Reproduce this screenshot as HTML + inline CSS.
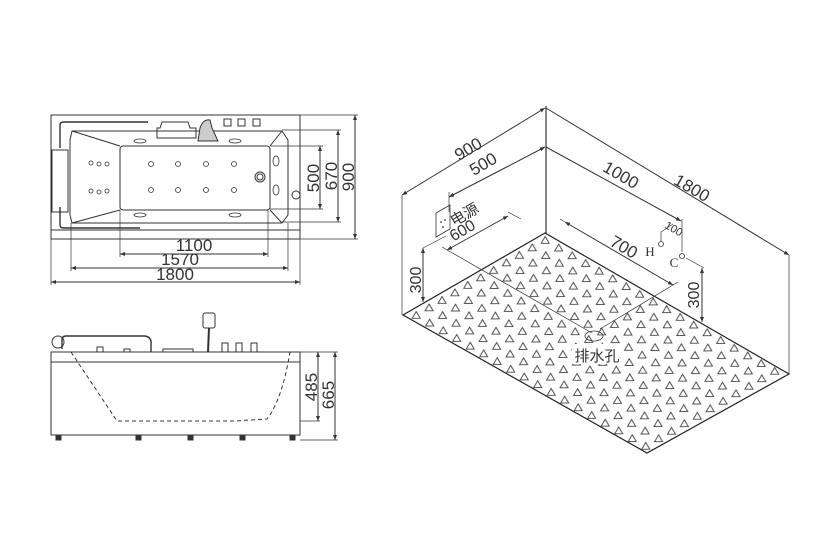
<!DOCTYPE html>
<html><head><meta charset="utf-8"><style>
html,body{margin:0;padding:0;background:#fff;width:820px;height:547px;overflow:hidden}
svg{display:block}
text{font-family:"Liberation Sans","Noto Sans CJK SC",sans-serif;fill:#333}
</style></head><body>
<svg width="820" height="547" viewBox="0 0 820 547" xmlns="http://www.w3.org/2000/svg">
<defs>
<marker id="ar" viewBox="0 0 10 10" refX="10" refY="5" markerWidth="8" markerHeight="5" markerUnits="userSpaceOnUse" orient="auto-start-reverse"><path d="M0,1 L10,5 L0,9 z" fill="#333"/></marker>
<pattern id="tri" patternUnits="userSpaceOnUse" width="1" height="1" patternTransform="matrix(13.5 7.7 12.9 -7.5 403 315)">
<g transform="translate(0.5 0.5) matrix(0.03739 0.03839 0.06431 -0.0673 0 0)"><path d="M0,-3.6 L4,3.2 L-4,3.2 z" fill="none" stroke="#444" stroke-width="0.9"/></g>
</pattern>
</defs>
<g fill="none" stroke="#333" stroke-width="1">
<!-- TOP VIEW -->
<rect x="51" y="115" width="249" height="124"/>
<line x1="51" y1="230" x2="300" y2="230"/>
<line x1="300" y1="115" x2="358" y2="115" stroke-width="0.7"/>
<line x1="300" y1="239" x2="358" y2="239" stroke-width="0.7"/>
<path d="M72,131 L282,131 L288,140 L288,215 L282,223 L72,223 L70,215 L70,140 z"/>
<rect x="120" y="146" width="150" height="64" rx="3"/>
<line x1="72" y1="131" x2="120" y2="146"/><line x1="72" y1="223" x2="120" y2="210"/>
<line x1="282" y1="131" x2="270" y2="146"/><line x1="282" y1="223" x2="270" y2="210"/>
<rect x="52" y="150" width="16" height="62"/>
<path d="M60,148 L60,125 Q60,122 64,122 L148,122" stroke-width="1.4"/>
<path d="M60,207 L60,225 Q60,228 64,228 L140,228" stroke-width="1.4"/>
<path d="M160,128 L162,122 L188,122 L190,128 L196,128 L196,138 L157,138 L157,128 z"/>
<path d="M198,141 L200,128 Q203,119 210,120 L212,128 L218,141 z" fill="#ccc"/>
<rect x="224" y="119" width="7" height="7"/><rect x="238" y="119" width="7" height="7"/><rect x="253" y="119" width="7" height="7"/>
<circle cx="260" cy="177" r="5"/><circle cx="260" cy="177" r="3"/>
<circle cx="296" cy="195" r="4"/>
<g stroke-width="0.8">
<circle cx="151" cy="164" r="2.5"/><circle cx="178" cy="164" r="2.5"/><circle cx="206" cy="164" r="2.5"/><circle cx="234" cy="164" r="2.5"/>
<circle cx="151" cy="190" r="2.5"/><circle cx="178" cy="190" r="2.5"/><circle cx="206" cy="190" r="2.5"/><circle cx="234" cy="190" r="2.5"/>
<circle cx="91" cy="163" r="2"/><circle cx="99" cy="164" r="2"/><circle cx="107" cy="164" r="2"/>
<circle cx="91" cy="191" r="2"/><circle cx="99" cy="192" r="2"/><circle cx="107" cy="191" r="2"/>
<ellipse cx="276" cy="161" rx="3" ry="5"/><ellipse cx="276" cy="190" rx="3" ry="5"/>
<ellipse cx="140" cy="141" rx="6" ry="2"/><ellipse cx="235" cy="141" rx="6" ry="2"/>
<ellipse cx="140" cy="215" rx="6" ry="2"/><ellipse cx="235" cy="215" rx="6" ry="2"/>
</g>
<g stroke-width="0.7">
<line x1="120" y1="210" x2="120" y2="257"/><line x1="268" y1="210" x2="268" y2="257"/>
<line x1="71" y1="223" x2="71" y2="271"/><line x1="288" y1="223" x2="288" y2="271"/>
<line x1="51" y1="239" x2="51" y2="285"/><line x1="300" y1="239" x2="300" y2="285"/>
<line x1="270" y1="146" x2="323" y2="146"/><line x1="270" y1="209" x2="323" y2="209"/>
<line x1="282" y1="130" x2="341" y2="130"/><line x1="282" y1="222" x2="341" y2="222"/>
</g>
<line x1="120" y1="254" x2="268" y2="254" marker-start="url(#ar)" marker-end="url(#ar)"/>
<line x1="71" y1="268" x2="288" y2="268" marker-start="url(#ar)" marker-end="url(#ar)"/>
<line x1="51" y1="282" x2="300" y2="282" marker-start="url(#ar)" marker-end="url(#ar)"/>
<line x1="320" y1="146" x2="320" y2="209" marker-start="url(#ar)" marker-end="url(#ar)"/>
<line x1="338" y1="130" x2="338" y2="222" marker-start="url(#ar)" marker-end="url(#ar)"/>
<line x1="355" y1="115" x2="355" y2="239" marker-start="url(#ar)" marker-end="url(#ar)"/>

<!-- SIDE VIEW -->
<rect x="51" y="352" width="249" height="83"/>
<line x1="51" y1="362" x2="300" y2="362"/>
<path d="M71,352 L117,421 L234,421 L267,419 Q282,400 290,352" stroke-dasharray="4,3"/>
<path d="M62,349 L62,340 Q62,336 66,336 L145,336 Q152,337 151,345 L151,352" stroke-width="1.4"/>
<circle cx="58" cy="342" r="6"/>
<rect x="203" y="313" width="12" height="15" rx="2"/>
<line x1="209" y1="328" x2="208" y2="352" stroke-width="2"/>
<rect x="222" y="343" width="6" height="9"/><rect x="236" y="343" width="6" height="9"/><rect x="251" y="343" width="6" height="9"/>
<rect x="163" y="349" width="30" height="3"/>
<rect x="97" y="347" width="6" height="5"/><rect x="124" y="349" width="6" height="3"/>
<g fill="#333"><rect x="56" y="435" width="5" height="5"/><rect x="136" y="435" width="5" height="5"/><rect x="188" y="435" width="5" height="5"/><rect x="240" y="435" width="5" height="5"/><rect x="290" y="435" width="5" height="5"/></g>
<g stroke-width="0.7">
<line x1="300" y1="352" x2="338" y2="352"/><line x1="300" y1="421" x2="320" y2="421"/><line x1="300" y1="440" x2="338" y2="440"/>
</g>
<line x1="318" y1="352" x2="318" y2="421" marker-start="url(#ar)" marker-end="url(#ar)"/>
<line x1="335" y1="352" x2="335" y2="440" marker-start="url(#ar)" marker-end="url(#ar)"/>

<!-- ISO VIEW -->
<path d="M545,233 L403,315 L647,453 L789,374 z" fill="url(#tri)" stroke="#222" stroke-width="1.2"/>
<line x1="546" y1="106" x2="546" y2="233" stroke-width="1.2"/>
<line x1="402" y1="195" x2="402" y2="315" stroke-width="0.7"/>
<line x1="789" y1="255" x2="789" y2="374" stroke-width="0.7"/>
<line x1="402" y1="195" x2="545" y2="108" marker-start="url(#ar)" marker-end="url(#ar)"/>
<line x1="449" y1="197" x2="545" y2="147" marker-start="url(#ar)" marker-end="url(#ar)"/>
<line x1="449" y1="192" x2="449" y2="212" stroke-width="0.7"/>
<line x1="546" y1="108" x2="789" y2="255" marker-end="url(#ar)"/>
<line x1="546" y1="147" x2="681" y2="221" marker-end="url(#ar)"/>
<line x1="447" y1="250" x2="508" y2="216" marker-start="url(#ar)" marker-end="url(#ar)"/>
<line x1="565" y1="222" x2="673" y2="285" marker-start="url(#ar)" marker-end="url(#ar)"/>
<g stroke-width="0.7">
<line x1="442" y1="247" x2="592" y2="333"/>
<line x1="508" y1="212" x2="521" y2="219"/>
<line x1="565" y1="222" x2="560" y2="219"/>
<line x1="678" y1="282" x2="600" y2="329"/>
<line x1="423" y1="248" x2="446" y2="236"/>
<line x1="682" y1="219" x2="682" y2="252"/>
<path d="M661,241 L661,232 L673,224"/>
<line x1="686" y1="258" x2="704" y2="268"/>
</g>
<line x1="423" y1="248" x2="423" y2="302" marker-start="url(#ar)" marker-end="url(#ar)"/>
<line x1="702" y1="268" x2="702" y2="322" marker-start="url(#ar)" marker-end="url(#ar)"/>
<path d="M436,213 L450,205 L450,229 L436,237 z" stroke-width="0.8"/>
<g fill="#333" stroke="none"><circle cx="441" cy="222" r="0.9"/><circle cx="445" cy="220" r="0.9"/><circle cx="443" cy="227" r="0.9"/></g>
<circle cx="661" cy="244" r="2.5" stroke-width="0.8"/>
<circle cx="682" cy="256" r="2.5" stroke-width="0.8"/>
<ellipse cx="594" cy="336" rx="9" ry="5" stroke-width="0.8"/>
</g>
<rect x="572" y="344" width="48" height="20" fill="#fff"/>
<g font-size="17" text-anchor="middle">
<text x="194" y="251">1100</text>
<text x="180" y="265">1570</text>
<text x="175" y="280">1800</text>
<text transform="translate(319 178) rotate(-90)">500</text>
<text transform="translate(337 176) rotate(-90)">670</text>
<text transform="translate(354 177) rotate(-90)">900</text>
<text transform="translate(317 387) rotate(-90)">485</text>
<text transform="translate(334 395) rotate(-90)">665</text>
<text transform="translate(471 154) rotate(-30)">900</text>
<text transform="translate(486 169) rotate(-30)">500</text>
<text transform="translate(465 235) rotate(-30)" font-size="16">600</text>
<text transform="translate(618 180) rotate(30)">1000</text>
<text transform="translate(689 193) rotate(30)">1800</text>
<text transform="translate(621 252) rotate(30)">700</text>
<text transform="translate(421 280) rotate(-90)" font-size="16">300</text>
<text transform="translate(699 295) rotate(-90)" font-size="16">300</text>
<text transform="translate(672 232) rotate(30)" font-size="11">100</text>
<text transform="translate(467 219) rotate(-30)" font-size="15">电源</text>
<text x="597" y="361" font-size="15">排水孔</text>
<text x="650" y="256" font-size="13" style="font-family:'Liberation Serif',serif">H</text>
<text x="674" y="267" font-size="13" style="font-family:'Liberation Serif',serif">C</text>
</g>
</svg>
</body></html>
